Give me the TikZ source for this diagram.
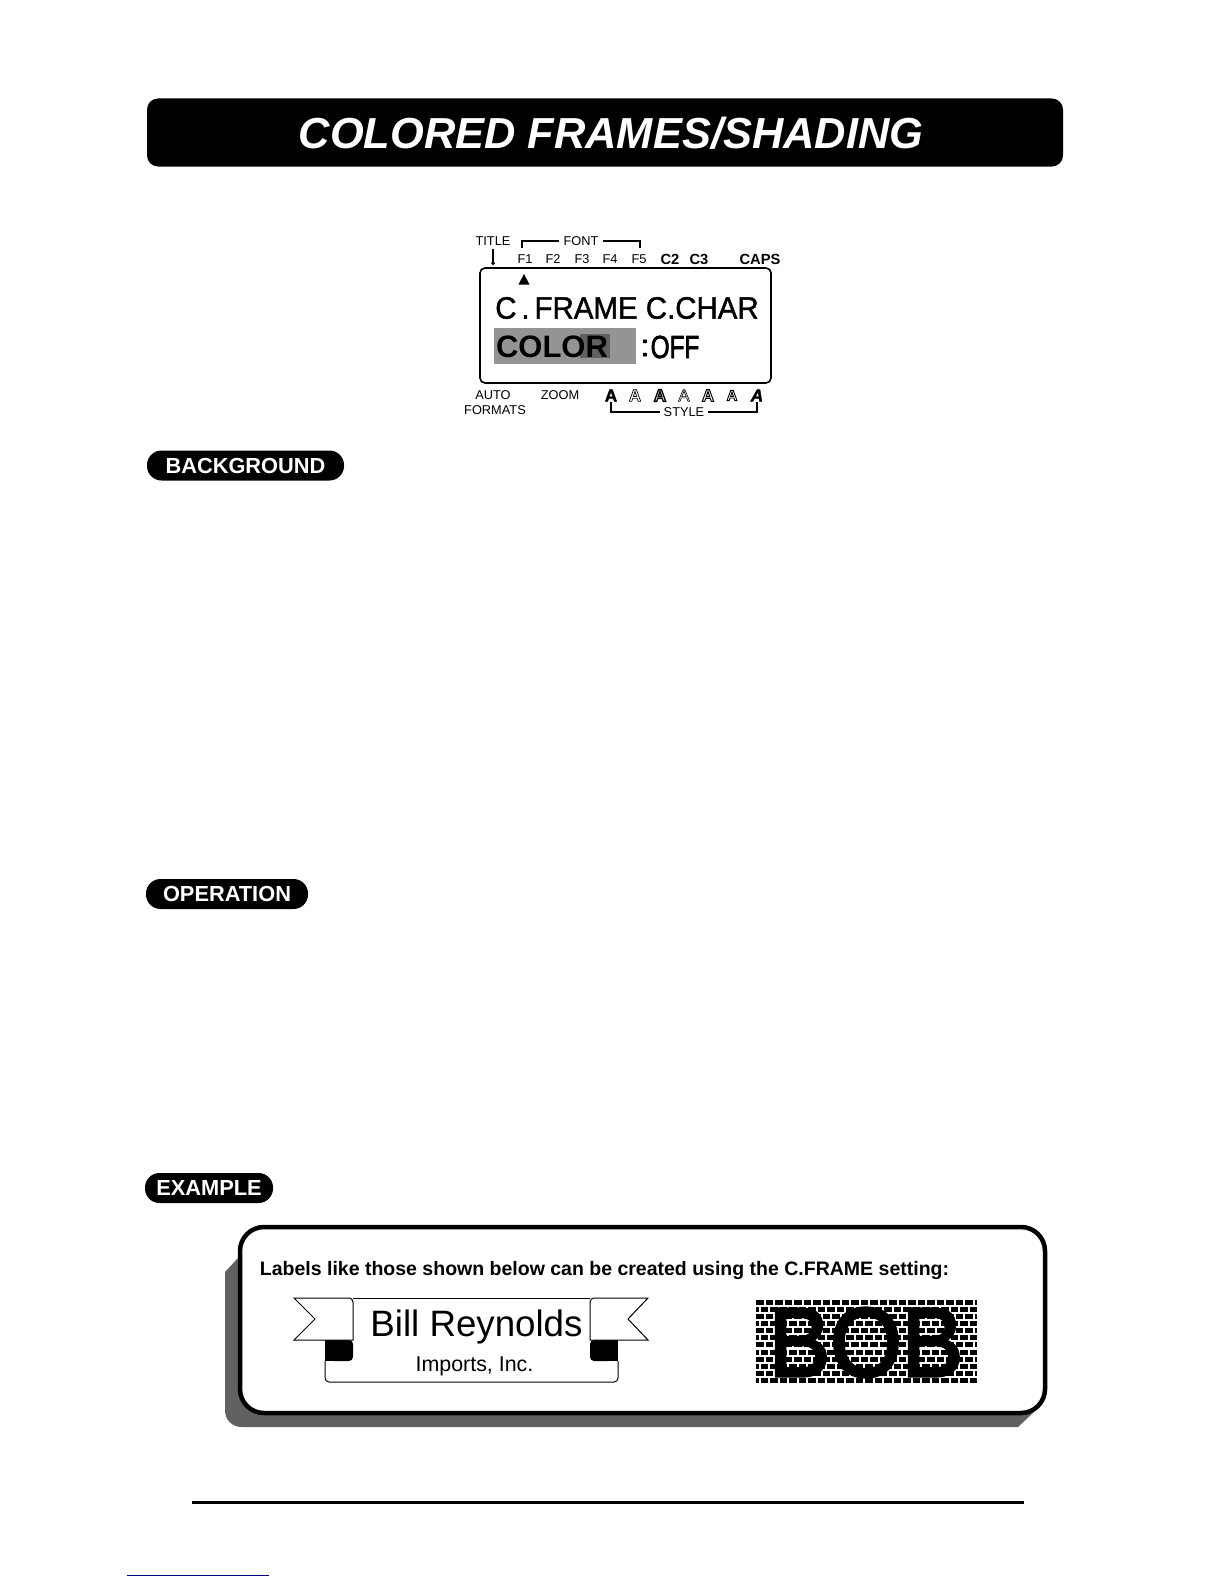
\documentclass[tikz,border=0pt]{standalone}
\usepackage{fontspec}
\setmainfont{Liberation Sans}
\usetikzlibrary{arrows.meta}
\newcommand{\fsize}[1]{\fontsize{#1}{#1}\selectfont}
\newcommand{\outlined}[2]{\special{pdf:code 1 Tr #1 w}#2\special{pdf:code 0 Tr 1 w}}
\newcommand{\heavied}[2]{\special{pdf:code 2 Tr #1 w}#2\special{pdf:code 0 Tr 1 w}}

\begin{document}
\begin{tikzpicture}[
		x=1pt,y=-1pt,
		lcdlabel/.style={inner sep=0pt,font=\fsize{12.8}},
		lcdbold/.style={inner sep=0pt,font=\fsize{14.7}\bfseries},
		stylemark/.style={inner sep=0pt,font=\fsize{17}\bfseries},
		secpill/.style={fill=black,text=white,rounded corners=14.5pt,minimum height=30pt,inner sep=0pt,font=\fsize{21.8}\bfseries},
		bracket/.style={line width=1.2pt}
	]
	\useasboundingbox (0,0) rectangle (1224,1584);

	% title bar
	\node (titlebar) at (605,132.5) [fill=black,rounded corners=11pt,minimum width=916pt,minimum height=68pt,inner sep=0pt] {};
	\node (titletext) at (611,133.5) [text=white,inner sep=0pt,font=\fsize{43.4}\bfseries\itshape] {COLORED FRAMES/SHADING};

	% display
	\node (lbltitle) at (493,241) [lcdlabel] {TITLE};
	\node (lblfont) at (581,241) [lcdlabel,inner xsep=4pt] {FONT};
	\foreach \n/\x in {1/525,2/553,3/582,4/610,5/639}
		\node (keyf\n) at (\x,259) [lcdlabel] {F\n};
	\node (keyctwo) at (670,259) [lcdbold] {C2};
	\node (keycthree) at (699,259) [lcdbold] {C3};
	\node (keycaps) at (760,259) [lcdbold] {CAPS};
	\draw[bracket] (lblfont.west) -- (522,241) -- (522,248);
	\draw[bracket] (lblfont.east) -- (640,241) -- (640,248);
	\draw[line width=1.2pt,-{Circle[length=3.6pt]},shorten <=3pt] (lbltitle.south) -- (493,265);

	\node (lcdbox) at (625.5,325.5) [draw,line width=1.6pt,rounded corners=5pt,minimum width=291pt,minimum height=115pt,inner sep=0pt] {};
	\fill (524,274) -- (518.5,284.5) -- (529.5,284.5) -- cycle;
	\node (lineone) at (627,308) [inner sep=0pt,xscale=.95,transform shape,font=\fsize{31}] {\heavied{.4}{C\,.\,FRAME C.CHAR}};
	\node (colorbg) at (565,346) [fill=black!42,minimum width=142pt,minimum height=36pt,inner sep=0pt] {};
	\node (colorpatch) at (595,346) [fill=black!62,minimum width=30pt,minimum height=24pt,inner sep=0pt] {};
	\node (colortext) at (552,347) [inner sep=0pt,font=\fsize{31}\bfseries] {COLOR};
	\node (colonmark) at (645,348) [inner sep=0pt,font=\fsize{31}] {\heavied{.6}{:}};
	\node (offtext) at (675,347) [inner sep=0pt,xscale=.76,transform shape,font=\fsize{32}] {\heavied{.8}{OFF}};

	\node (lblauto) at (493,395) [lcdlabel] {AUTO};
	\node (lblformats) at (495,410) [lcdlabel] {FORMATS};
	\node (lblzoom) at (560,395) [lcdlabel] {ZOOM};
	\node (stylea) at (611,395.5) [stylemark] {\heavied{.4}{A}};
	\node (styleb) at (635,395.5) [stylemark] {\outlined{.7}{A}};
	\node (stylec) at (660,395.5) [stylemark] {\outlined{1.3}{A}};
	\node (styled) at (684,395.5) [stylemark,font=\fsize{17}] {\outlined{.6}{A}};
	\node (stylee) at (708,395.5) [stylemark] {\outlined{1}{A}};
	\node (stylef) at (732,395.5) [stylemark,font=\fsize{15}\bfseries] {\outlined{.9}{A}};
	\node (styleg) at (757,395.5) [stylemark,font=\fsize{17}\bfseries\itshape] {\heavied{.4}{A}};
	\node (lblstyle) at (684,412) [lcdlabel,inner xsep=4pt] {STYLE};
	\draw[bracket] (lblstyle.west) -| (stylea.south);
	\draw[bracket] (lblstyle.east) -| (styleg.south);

	% section heads
	\node (secback) at (245.5,465.5) [secpill,minimum width=197pt] {BACKGROUND};
	\node (secoper) at (227,894) [secpill,minimum width=162pt] {OPERATION};
	\node (secexam) at (209,1188) [secpill,minimum width=128pt] {EXAMPLE};

	% example panel
	\fill[black!62] (238,1258) -- (225,1272) -- (225,1410) .. controls (225,1420) and (232,1427) .. (242,1427)
		-- (1018,1427) -- (1034,1412) -- cycle;
	\node (panel) at (642.5,1320) [draw,fill=white,line width=4.5pt,rounded corners=24pt,minimum width=805pt,minimum height=186pt,inner sep=0pt] {};
	\node (paneltext) at (604.5,1270) [inner sep=0pt,font=\fsize{19.5}\bfseries] {Labels like those shown below can be created using the C.FRAME setting:};

	% banner
	\fill (325,1338) rectangle (349,1361);
	\fill[rounded corners=4pt] (330,1340) -- (353,1340) -- (353,1361) -- (330,1361) -- cycle;
	\fill (594,1338) rectangle (618,1361);
	\fill[rounded corners=4pt] (590,1340) -- (612,1340) -- (612,1361) -- (590,1361) -- cycle;
	\draw[line width=1pt,fill=white] (294,1298) -- (315,1319) -- (294,1340) -- (353,1340) -- (353,1302)
		.. controls (353,1299.5) and (351,1298) .. (349,1298) -- cycle;
	\draw[line width=1pt,fill=white] (648,1298) -- (628,1319) -- (648,1340) -- (590,1340) -- (590,1302)
		.. controls (590,1299.5) and (592,1298) .. (594,1298) -- cycle;
	\draw[line width=1pt] (353,1298) -- (590,1298);
	\draw[line width=1pt,rounded corners=4pt] (325,1361) -- (325,1382) -- (618,1382) -- (618,1361);
	\node (billtext) at (476.5,1326.5) [inner sep=0pt,font=\fsize{36.7}] {Bill Reynolds};
	\node (incname) at (474.5,1366) [inner sep=0pt,font=\fsize{21.4}] {Imports, Inc.};

	% brick label
	\foreach \r in {0,...,11} {
		\pgfmathsetmacro{\rowy}{1302+\r*7.15}
		\pgfmathsetmacro{\rowphase}{mod(\r,2)*5}
		\draw[line width=5pt,dash pattern=on 7.5pt off 2pt,dash phase=\rowphase pt] (756,\rowy) -- (977,\rowy);
	}
	\node (bobtext) at (866,1342.5) [inner sep=0pt,yscale=1.06,transform shape,font=\fsize{92}] {\heavied{3}{BOB}};

	% foot
	\coordinate (ruleleft) at (192,1502);
	\coordinate (ruleright) at (1024,1502);
	\draw[line width=3pt] (ruleleft) -- (ruleright);
	\coordinate (linkleft) at (127,1575);
	\coordinate (linkright) at (269,1575);
	\draw[line width=1pt,color=blue!50!black] (linkleft) -- (linkright);
\end{tikzpicture}
\end{document}
